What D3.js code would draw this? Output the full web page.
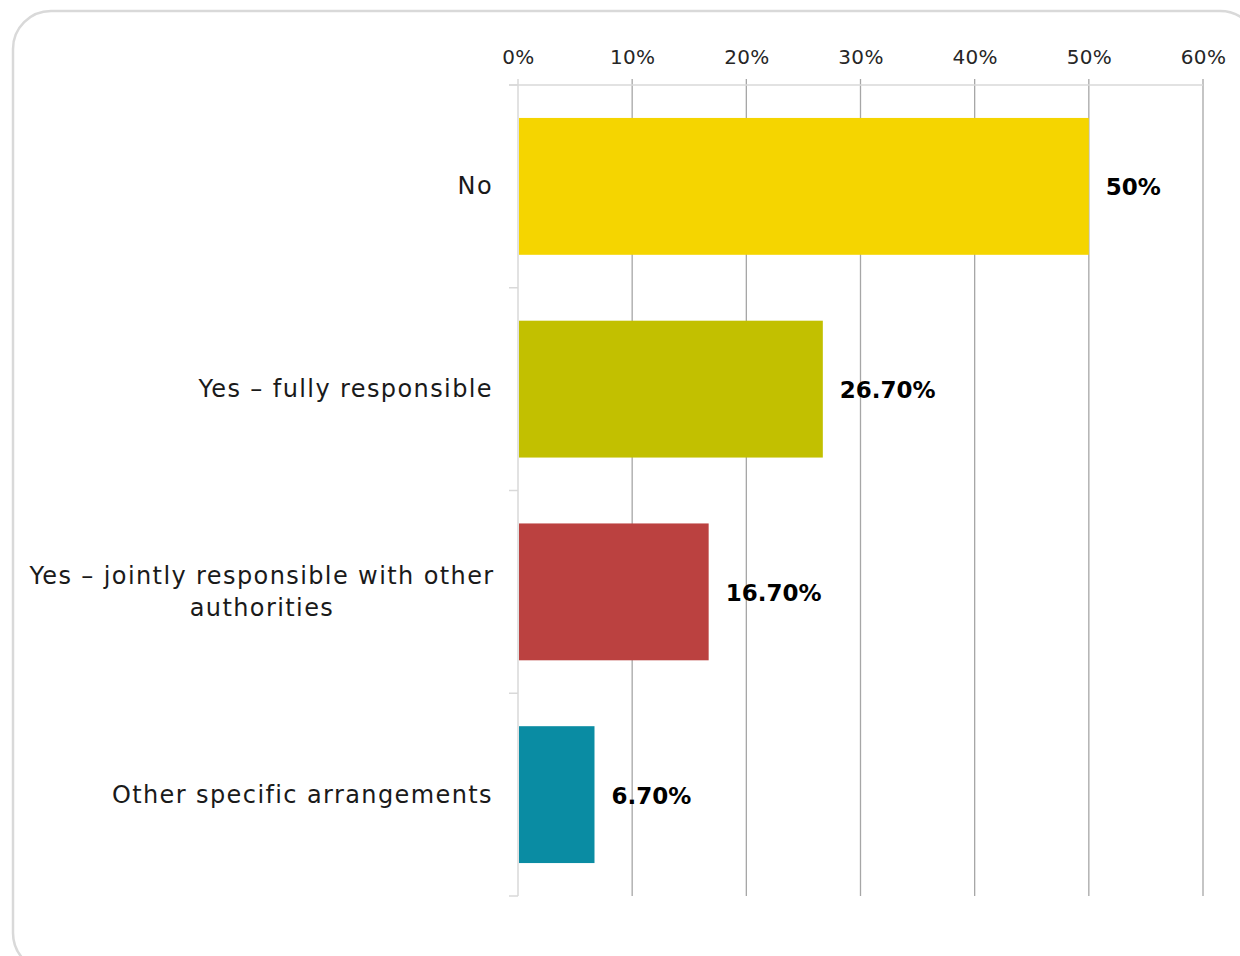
<!DOCTYPE html>
<html><head><meta charset="utf-8">
<script src="https://cdn.jsdelivr.net/npm/d3@7"></script>
<style>html,body{margin:0;padding:0;background:#fff;}svg{display:block;}</style>
</head><body>
<script>
const categories = ["No", "Yes – fully responsible", "Yes – jointly responsible with other authorities", "Other specific arrangements"];
const categoryLines = [["No"], ["Yes – fully responsible"], ["Yes – jointly responsible with other", "authorities"], ["Other specific arrangements"]];
const values = [50, 26.7, 16.7, 6.7];
const valueLabels = ["50%", "26.70%", "16.70%", "6.70%"];
const colors = ["#F5D500", "#C2C000", "#BB4140", "#0A8CA3"];
const ticks = [0, 10, 20, 30, 40, 50, 60];

const W = 1240, H = 956;
const font = "'DejaVu Sans', sans-serif";
const svg = d3.select("body").append("svg").attr("width", W).attr("height", H);

svg.append("rect").attr("x", 13).attr("y", 11).attr("width", 1245).attr("height", 960)
  .attr("rx", 38).attr("fill", "#fff").attr("stroke", "#d9d9d9").attr("stroke-width", 2.5);

const x = d3.scaleLinear().domain([0, 60]).range([518, 1203]);
const y = d3.scaleBand().domain(categories).range([85, 896]).paddingInner(0.325).paddingOuter(0.1625);

const g = svg.append("g");
g.selectAll(".grid").data(ticks.slice(1)).join("line")
  .attr("x1", d => x(d)).attr("x2", d => x(d)).attr("y1", 79).attr("y2", 896)
  .attr("stroke", "#a6a6a6").attr("stroke-width", 1.3);
g.append("line").attr("x1", 509).attr("x2", x(60)).attr("y1", 85).attr("y2", 85)
  .attr("stroke", "#d9d9d9").attr("stroke-width", 1.5);
g.append("line").attr("x1", 518).attr("x2", 518).attr("y1", 79).attr("y2", 896)
  .attr("stroke", "#d9d9d9").attr("stroke-width", 1.5);
const bounds = categories.map(c => y(c) - y.step() * y.paddingInner() / 2).concat([896]);
g.selectAll(".ctick").data(bounds).join("line")
  .attr("x1", 509).attr("x2", 518).attr("y1", d => d).attr("y2", d => d)
  .attr("stroke", "#d9d9d9").attr("stroke-width", 1.5);

const xAxis = d3.axisTop(x).tickValues(ticks).tickFormat(d => d + "%").tickSize(0).tickPadding(0);
const ax = svg.append("g").attr("transform", "translate(0,64)").call(xAxis);
ax.select(".domain").remove();
ax.selectAll("text").attr("font-family", font).attr("font-size", 20).attr("fill", "#262626")
  .attr("dy", 0).attr("letter-spacing", 0.3);

svg.selectAll(".bar").data(values).join("rect")
  .attr("x", x(0) + 1).attr("y", (d, i) => y(categories[i]))
  .attr("width", d => x(d) - x(0) - 1).attr("height", y.bandwidth())
  .attr("fill", (d, i) => colors[i]);

svg.selectAll(".vl").data(values).join("text")
  .attr("x", d => x(d) + 17).attr("y", (d, i) => y(categories[i]) + y.bandwidth() / 2 + 9)
  .attr("font-family", font).attr("font-weight", "bold").attr("font-size", 23).attr("fill", "#000")
  .text((d, i) => valueLabels[i]);

categoryLines.forEach((lines, i) => {
  const cy = y(categories[i]) + y.bandwidth() / 2;
  const lh = 32;
  const multi = lines.length > 1;
  const t = svg.append("text").attr("font-family", font).attr("font-size", 24).attr("fill", "#1a1a1a")
    .attr("letter-spacing", 1.4)
    .attr("text-anchor", multi ? "middle" : "end");
  lines.forEach((ln, j) => {
    t.append("tspan").attr("x", multi ? 262 : 493)
      .attr("y", cy + 8 + (j - (lines.length - 1) / 2) * lh).text(ln);
  });
});
</script>
</body></html>
